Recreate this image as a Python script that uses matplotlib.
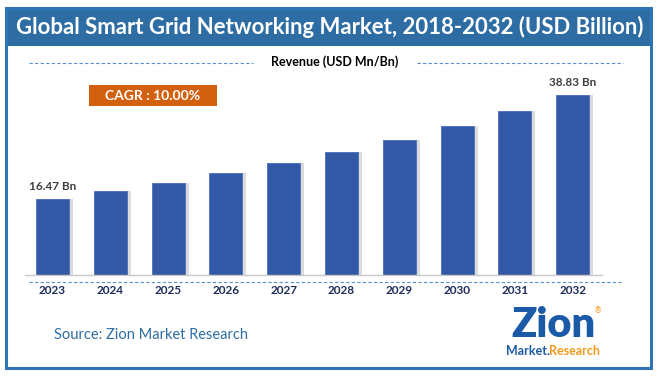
import matplotlib
matplotlib.use("Agg")
import matplotlib.pyplot as plt
from matplotlib.patches import Rectangle
from matplotlib.lines import Line2D

years = ["2023", "2024", "2025", "2026", "2027", "2028", "2029", "2030", "2031", "2032"]
revenue = [16.47, 18.12, 19.93, 21.92, 24.11, 26.52, 29.17, 32.09, 35.30, 38.83]
first_label = "16.47 Bn"
last_label = "38.83 Bn"
title = "Global Smart Grid Networking Market, 2018-2032 (USD Billion)"
subtitle = "Revenue (USD Mn/Bn)"
cagr = "CAGR : 10.00%"
source = "Source: Zion Market Research"

W, H = 658, 378
fig = plt.figure(figsize=(W / 100, H / 100), dpi=100)
fig.patch.set_facecolor("white")

def fx(px):
    return px / W

def fy(py):
    return 1 - py / H

# Title band and frame
fig.add_artist(Rectangle((fx(6), fy(46)), fx(645), (46 - 8) / H, transform=fig.transFigure,
                         facecolor="#2e6da4", edgecolor="none", zorder=1))
fig.add_artist(Rectangle((fx(6), fy(368)), fx(645), (368 - 8) / H, transform=fig.transFigure,
                         facecolor="none", edgecolor="#2e75b6", linewidth=2.2, zorder=2))
fig.text(fx(330), fy(27), title, color="white", fontsize=15.9, fontweight="bold",
         family="Lato", ha="center", va="center")

# Subtitle with dashed lines
fig.text(fx(335), fy(62), subtitle, color="black", fontsize=9, fontweight="bold",
         family="Lato", ha="center", va="center")
for x0, x1 in [(29, 253), (417, 623)]:
    fig.add_artist(Line2D([fx(x0), fx(x1)], [fy(63), fy(63)], transform=fig.transFigure,
                          color="#5b8fd0", linestyle=(0, (3, 2)), linewidth=0.8))

# CAGR box
fig.add_artist(Rectangle((fx(89), fy(106)), fx(128), (106 - 85) / H, transform=fig.transFigure,
                         facecolor="#d2600f", edgecolor="none"))
fig.text(fx(153), fy(95.5), cagr, color="white", fontsize=10, fontweight="bold",
         family="Lato", ha="center", va="center")

# Axes
ax_left, ax_right = 23.6, 601.6
base_y, top_y = 275, 275 - 40 * 180 / 38.83
ax = fig.add_axes([fx(ax_left), fy(base_y), (ax_right - ax_left) / W, (base_y - top_y) / H])
ax.set_xlim(-0.5, 9.5)
ax.set_ylim(0, 40)
ax.axis("off")
xs = list(range(len(years)))
# shadows
ax.bar([x + 0.07 for x in xs], revenue, width=0.57, color="#9a9a9a", alpha=0.35, zorder=1)
ax.bar(xs, revenue, width=0.57, color="#3358a6", edgecolor="#4a6fbf", linewidth=0.6, zorder=2)
ax.plot([-0.48, 9.5], [0, 0], color="#c8c8c8", linewidth=1.0, zorder=3, clip_on=False)
ax.text(xs[0], revenue[0] + 1.5, first_label, ha="center", va="bottom", fontsize=8.5,
        fontweight="bold", color="#404040", family="Lato")
ax.text(xs[-1], revenue[-1] + 1.5, last_label, ha="center", va="bottom", fontsize=8.5,
        fontweight="bold", color="#404040", family="Lato", clip_on=False)
for x, yr in zip(xs, years):
    ax.text(x, -3.3, yr, ha="center", va="center", fontsize=8.5, fontweight="bold",
            color="#1f2d5a", family="Lato", clip_on=False)

fig.add_artist(Line2D([fx(29), fx(623)], [fy(282), fy(282)], transform=fig.transFigure,
                      color="#5b8fd0", linestyle=(0, (3, 2)), linewidth=0.8))

# Source
fig.text(fx(54), fy(335), source, color="#2e6da4", fontsize=10.5, family="Lato",
         ha="left", va="center")

# Logo (text approximation)
fig.text(fx(553), fy(325), "Zion", color="#1b5aa6", fontsize=30, fontweight="heavy",
         family="Lato", ha="center", va="center")
fig.text(fx(598), fy(311), "®", color="#f39a1e", fontsize=6, family="DejaVu Sans",
         ha="center", va="center")
fig.text(fx(528), fy(351), "Market.", color="#1b5aa6", fontsize=9, fontweight="bold",
         family="Lato", ha="center", va="center")
fig.text(fx(575), fy(351), "Research", color="#f39a1e", fontsize=9, fontweight="bold",
         family="Lato", ha="center", va="center")

fig.savefig("out.png", dpi=100)
